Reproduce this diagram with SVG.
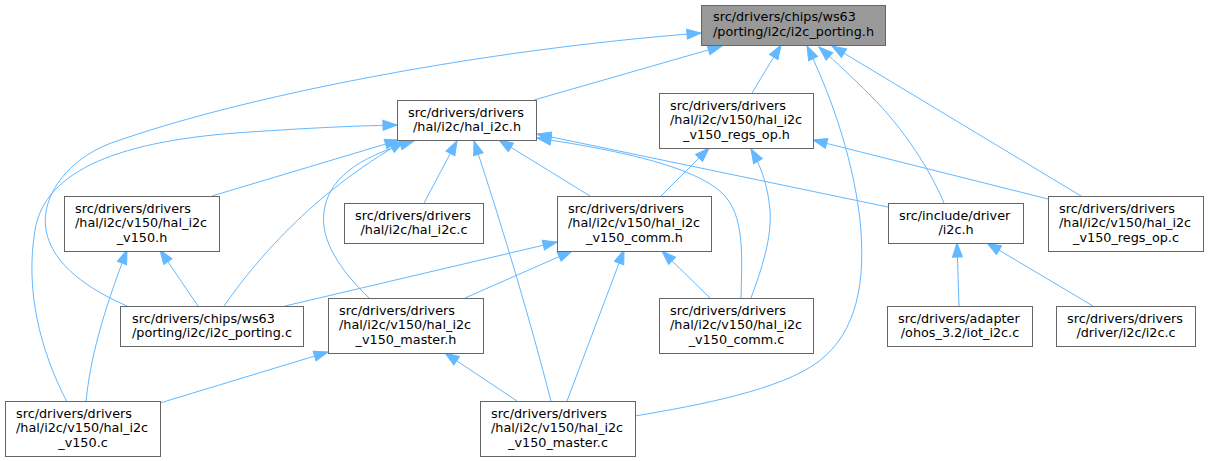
<svg xmlns="http://www.w3.org/2000/svg" width="1208" height="461" viewBox="0 0 1208 461">
<style>
.n rect{fill:#ffffff;stroke:#666666;stroke-width:1}
.n.root rect{fill:#999999}
.n text{font-family:"DejaVu Sans",sans-serif;font-size:12.8px;fill:#000000}
.m{text-anchor:middle}
.e path{fill:none;stroke:#63b8ff;stroke-width:1;marker-end:url(#ah)}
</style>
<defs>
<marker id="ah" markerUnits="userSpaceOnUse" markerWidth="14" markerHeight="10" viewBox="0 0 13.3 9.4" refX="13.3" refY="4.7" orient="auto" overflow="visible">
<path d="M0,0 L13.3,4.7 L0,9.4z" fill="#63b8ff" stroke="#63b8ff" stroke-width="1"/>
</marker>
</defs>
<rect width="1208" height="461" fill="#ffffff"/>
<g id="connectors" class="e">
<path d="M534,100 L722,46"/>
<path d="M127,306 C90,290 52,265 46,230 C40,195 70,155 120,140 C250,95 480,50 701,33"/>
<path d="M752,93 L781,45"/>
<path d="M635,416 C700,405 780,390 818,362 C858,332 866,280 860,220 C852,150 826,85 807,46"/>
<path d="M944,203 C930,170 905,130 870,95 C852,77 838,64 819,47"/>
<path d="M1081,196 L832,46"/>
<path d="M212,196 L399,140"/>
<path d="M224,306 C255,262 310,195 404,141"/>
<path d="M369,298 C340,270 320,240 324,212 C328,180 355,158 414,141"/>
<path d="M424,203 L457,141"/>
<path d="M551,401 C530,320 505,235 474,141"/>
<path d="M590,196 L499,140"/>
<path d="M888,207 L537,134"/>
<path d="M741,298 C742,255 745,215 722,193 C695,168 630,152 537,138"/>
<path d="M67,402 C40,350 25,290 35,230 C45,170 120,140 250,132 C310,128 350,126 397,125"/>
<path d="M661,196 L709,148"/>
<path d="M751,298 C762,268 772,238 770,210 C768,190 764,172 751,149"/>
<path d="M1048,199 L813,140"/>
<path d="M285,306 L557,242"/>
<path d="M465,298 L572,251"/>
<path d="M567,401 L624,250"/>
<path d="M710,298 L662,251"/>
<path d="M198,306 L160,250"/>
<path d="M86,402 C90,360 102,315 127,250"/>
<path d="M160,403 L328,352"/>
<path d="M517,401 L445,353"/>
<path d="M959,306 L957,243"/>
<path d="M1093,306 L987,243"/>
</g>
<g id="node1" class="n root">
<rect x="701.5" y="5.5" width="184" height="40"/>
<text x="713" y="21">src/drivers/chips/ws63</text>
<text class="m" x="793.5" y="35.7">/porting/i2c/i2c_porting.h</text>
</g>
<g id="node2" class="n">
<rect x="397.5" y="100.5" width="139" height="40"/>
<text x="408" y="116.5">src/drivers/drivers</text>
<text class="m" x="467" y="131.2">/hal/i2c/hal_i2c.h</text>
</g>
<g id="node3" class="n">
<rect x="659.5" y="93.5" width="154" height="55"/>
<text x="670" y="109.5">src/drivers/drivers</text>
<text x="670" y="124.2">/hal/i2c/v150/hal_i2c</text>
<text class="m" x="736.5" y="138.9">_v150_regs_op.h</text>
</g>
<g id="node4" class="n">
<rect x="64.5" y="196.5" width="155" height="55"/>
<text x="75" y="212.5">src/drivers/drivers</text>
<text x="75" y="227.2">/hal/i2c/v150/hal_i2c</text>
<text class="m" x="142" y="241.9">_v150.h</text>
</g>
<g id="node5" class="n">
<rect x="344.5" y="203.5" width="139" height="40"/>
<text x="355" y="219.5">src/drivers/drivers</text>
<text class="m" x="414" y="234.2">/hal/i2c/hal_i2c.c</text>
</g>
<g id="node6" class="n">
<rect x="557.5" y="196.5" width="154" height="55"/>
<text x="568" y="212.5">src/drivers/drivers</text>
<text x="568" y="227.2">/hal/i2c/v150/hal_i2c</text>
<text class="m" x="634.5" y="241.9">_v150_comm.h</text>
</g>
<g id="node7" class="n">
<rect x="888.5" y="203.5" width="135" height="40"/>
<text x="899" y="219.5">src/include/driver</text>
<text class="m" x="956" y="234.2">/i2c.h</text>
</g>
<g id="node8" class="n">
<rect x="1048.5" y="196.5" width="155" height="55"/>
<text x="1059" y="212.5">src/drivers/drivers</text>
<text x="1059" y="227.2">/hal/i2c/v150/hal_i2c</text>
<text class="m" x="1126" y="241.9">_v150_regs_op.c</text>
</g>
<g id="node9" class="n">
<rect x="120.5" y="306.5" width="183" height="40"/>
<text x="132" y="322.5">src/drivers/chips/ws63</text>
<text class="m" x="212" y="337.2">/porting/i2c/i2c_porting.c</text>
</g>
<g id="node10" class="n">
<rect x="328.5" y="298.5" width="155" height="55"/>
<text x="339" y="314.5">src/drivers/drivers</text>
<text x="339" y="329.2">/hal/i2c/v150/hal_i2c</text>
<text class="m" x="406" y="343.9">_v150_master.h</text>
</g>
<g id="node11" class="n">
<rect x="659.5" y="298.5" width="154" height="55"/>
<text x="670" y="314.5">src/drivers/drivers</text>
<text x="670" y="329.2">/hal/i2c/v150/hal_i2c</text>
<text class="m" x="736.5" y="343.9">_v150_comm.c</text>
</g>
<g id="node12" class="n">
<rect x="887.5" y="306.5" width="145" height="40"/>
<text x="898" y="322.5">src/drivers/adapter</text>
<text class="m" x="960" y="337.2">/ohos_3.2/iot_i2c.c</text>
</g>
<g id="node13" class="n">
<rect x="1056.5" y="306.5" width="139" height="40"/>
<text x="1067" y="322.5">src/drivers/drivers</text>
<text class="m" x="1126" y="337.2">/driver/i2c/i2c.c</text>
</g>
<g id="node14" class="n">
<rect x="5.5" y="401.5" width="155" height="55"/>
<text x="16" y="417.5">src/drivers/drivers</text>
<text x="16" y="432.2">/hal/i2c/v150/hal_i2c</text>
<text class="m" x="83" y="446.9">_v150.c</text>
</g>
<g id="node15" class="n">
<rect x="480.5" y="401.5" width="155" height="55"/>
<text x="491" y="417.5">src/drivers/drivers</text>
<text x="491" y="432.2">/hal/i2c/v150/hal_i2c</text>
<text class="m" x="558" y="446.9">_v150_master.c</text>
</g>
</svg>
